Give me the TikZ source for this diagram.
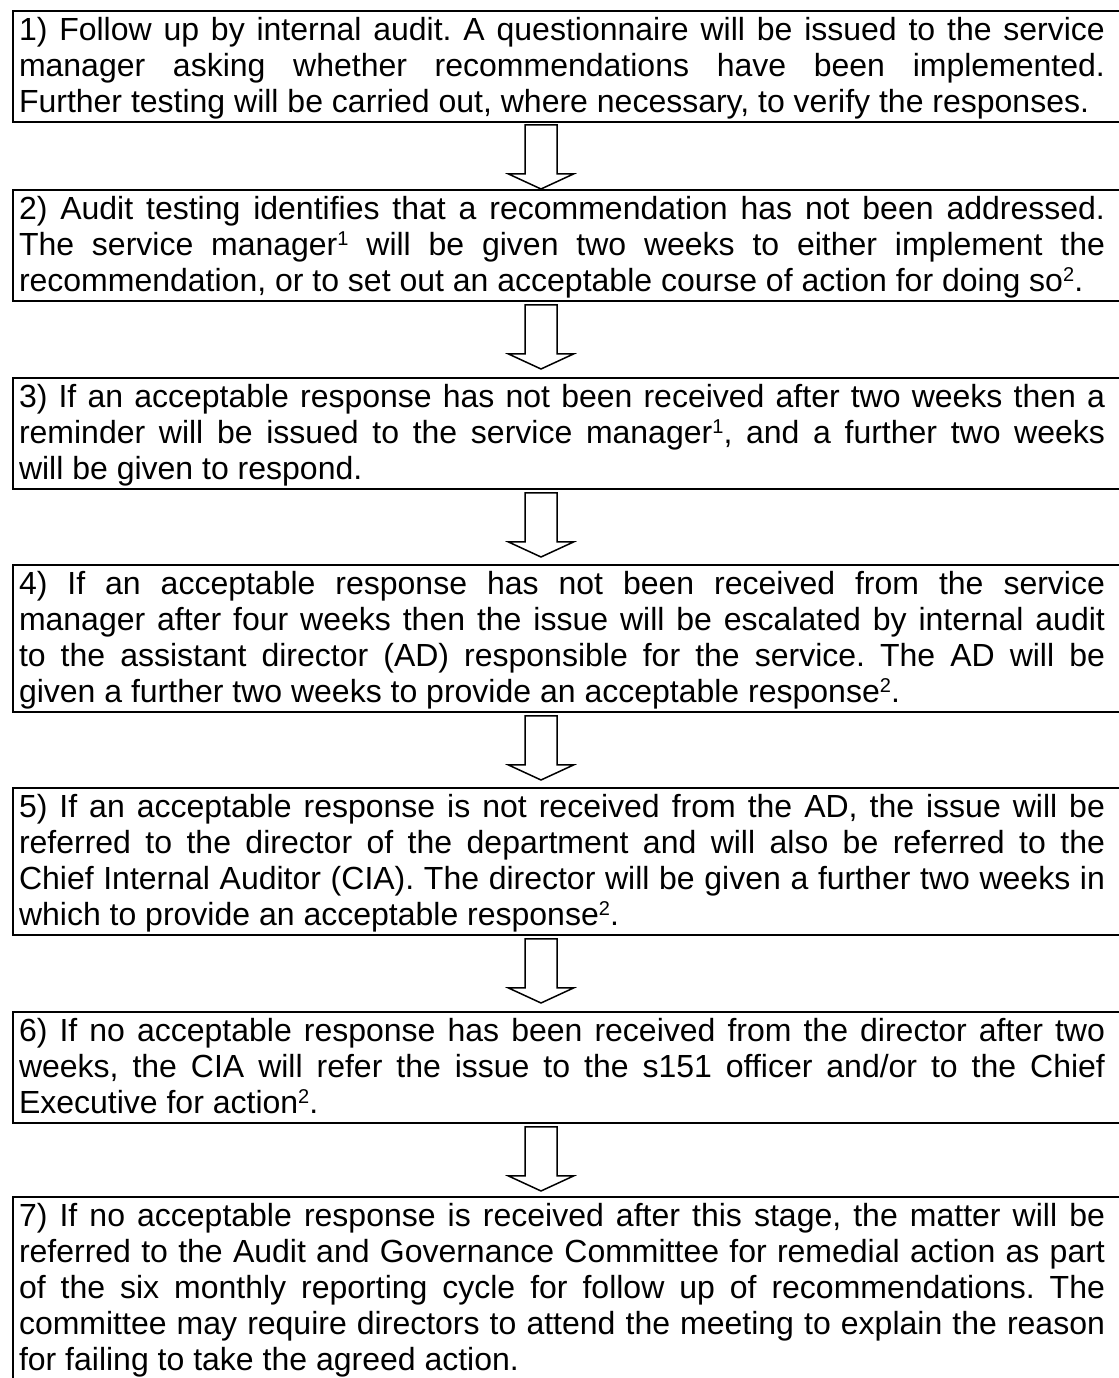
\documentclass[tikz,border=0pt]{standalone}
\usepackage{fontspec}
\setmainfont{Liberation Sans}
\newcommand{\stepstrut}{\rule[-4pt]{0pt}{18pt}}
\newcommand{\steptext}[1]{\parbox[t]{543pt}{\spaceskip=0pt\xspaceskip=0pt\frenchspacing\hyphenpenalty=10000\stepstrut#1\stepstrut}}
\newcommand{\supnum}[1]{\raisebox{5pt}{\fontsize{10}{10}\selectfont#1}}

\begin{document}
\begin{tikzpicture}[x=0.5pt,y=0.5pt,
  stepbox/.style={draw, line width=1pt, anchor=north west, outer sep=0pt,
    inner xsep=3pt, inner ysep=0.75pt, text width=550pt,
    font=\fontsize{16}{18}\selectfont},
  blockarrow/.style={draw, line width=0.75pt, line join=miter}]
\useasboundingbox (0.000000,0.000000) rectangle (1119.000000,1378.000000);
\clip (0.000000,0.000000) rectangle (1119.000000,1378.000000);
% Drawing boxes
% Box 1: follow up
\node[stepbox] (b1) at (13.000000,1367.000000) {\steptext{1) Follow up by internal audit. A questionnaire will be issued to the service\linebreak
manager asking whether recommendations have been implemented.\linebreak
Further testing will be carried out, where necessary, to verify the responses.}};
% Box 2: not addressed
\node[stepbox] (b2) at (13.000000,1188.000000) {\steptext{2) Audit testing identifies that a recommendation has not been addressed.\linebreak
The service manager\supnum{1} will be given two weeks to either implement the\linebreak
recommendation, or to set out an acceptable course of action for doing so\supnum{2}.}};
% Box 3: reminder
\node[stepbox] (b3) at (13.000000,1000.000000) {\steptext{3) If an acceptable response has not been received after two weeks then a\linebreak
reminder will be issued to the service manager\supnum{1}, and a further two weeks\linebreak
will be given to respond.}};
% Box 4: escalated to AD
\node[stepbox] (b4) at (13.000000,813.000000) {\steptext{4) If an acceptable response has not been received from the service\linebreak
manager after four weeks then the issue will be escalated by internal audit\linebreak
to the assistant director (AD) responsible for the service. The AD will be\linebreak
given a further two weeks to provide an acceptable response\supnum{2}.}};
% Box 5: director and CIA
\node[stepbox] (b5) at (13.000000,590.000000) {\steptext{5) If an acceptable response is not received from the AD, the issue will be\linebreak
referred to the director of the department and will also be referred to the\linebreak
Chief Internal Auditor (CIA). The director will be given a further two weeks in\linebreak
which to provide an acceptable response\supnum{2}.}};
% Box 6: s151 officer
\node[stepbox] (b6) at (13.000000,366.000000) {\steptext{6) If no acceptable response has been received from the director after two\linebreak
weeks, the CIA will refer the issue to the s151 officer and/or to the Chief\linebreak
Executive for action\supnum{2}.}};
% Box 7: committee
\node[stepbox] (b7) at (13.000000,181.000000) {\steptext{7) If no acceptable response is received after this stage, the matter will be\linebreak
referred to the Audit and Governance Committee for remedial action as part\linebreak
of the six monthly reporting cycle for follow up of recommendations. The\linebreak
committee may require directors to attend the meeting to explain the reason\linebreak
for failing to take the agreed action.}};
% Done with boxes; drawing arrows
% Arrow 1: b1 to b2
\draw[blockarrow] (525.000000,1253.000000) -- (557.000000,1253.000000) -- (557.000000,1204.000000) -- (573.500000,1204.000000) -- (541.000000,1189.000000) -- (508.500000,1204.000000) -- (525.000000,1204.000000) -- cycle;
% Arrow 2: b2 to b3
\draw[blockarrow] (525.000000,1073.000000) -- (557.000000,1073.000000) -- (557.000000,1024.000000) -- (573.500000,1024.000000) -- (541.000000,1009.000000) -- (508.500000,1024.000000) -- (525.000000,1024.000000) -- cycle;
% Arrow 3: b3 to b4
\draw[blockarrow] (525.000000,885.000000) -- (557.000000,885.000000) -- (557.000000,836.000000) -- (573.500000,836.000000) -- (541.000000,821.000000) -- (508.500000,836.000000) -- (525.000000,836.000000) -- cycle;
% Arrow 4: b4 to b5
\draw[blockarrow] (525.000000,662.000000) -- (557.000000,662.000000) -- (557.000000,613.000000) -- (573.500000,613.000000) -- (541.000000,598.000000) -- (508.500000,613.000000) -- (525.000000,613.000000) -- cycle;
% Arrow 5: b5 to b6
\draw[blockarrow] (525.000000,439.000000) -- (557.000000,439.000000) -- (557.000000,390.000000) -- (573.500000,390.000000) -- (541.000000,375.000000) -- (508.500000,390.000000) -- (525.000000,390.000000) -- cycle;
% Arrow 6: b6 to b7
\draw[blockarrow] (525.000000,251.000000) -- (557.000000,251.000000) -- (557.000000,202.000000) -- (573.500000,202.000000) -- (541.000000,187.000000) -- (508.500000,202.000000) -- (525.000000,202.000000) -- cycle;
% Done with arrows
\end{tikzpicture}
\end{document}
